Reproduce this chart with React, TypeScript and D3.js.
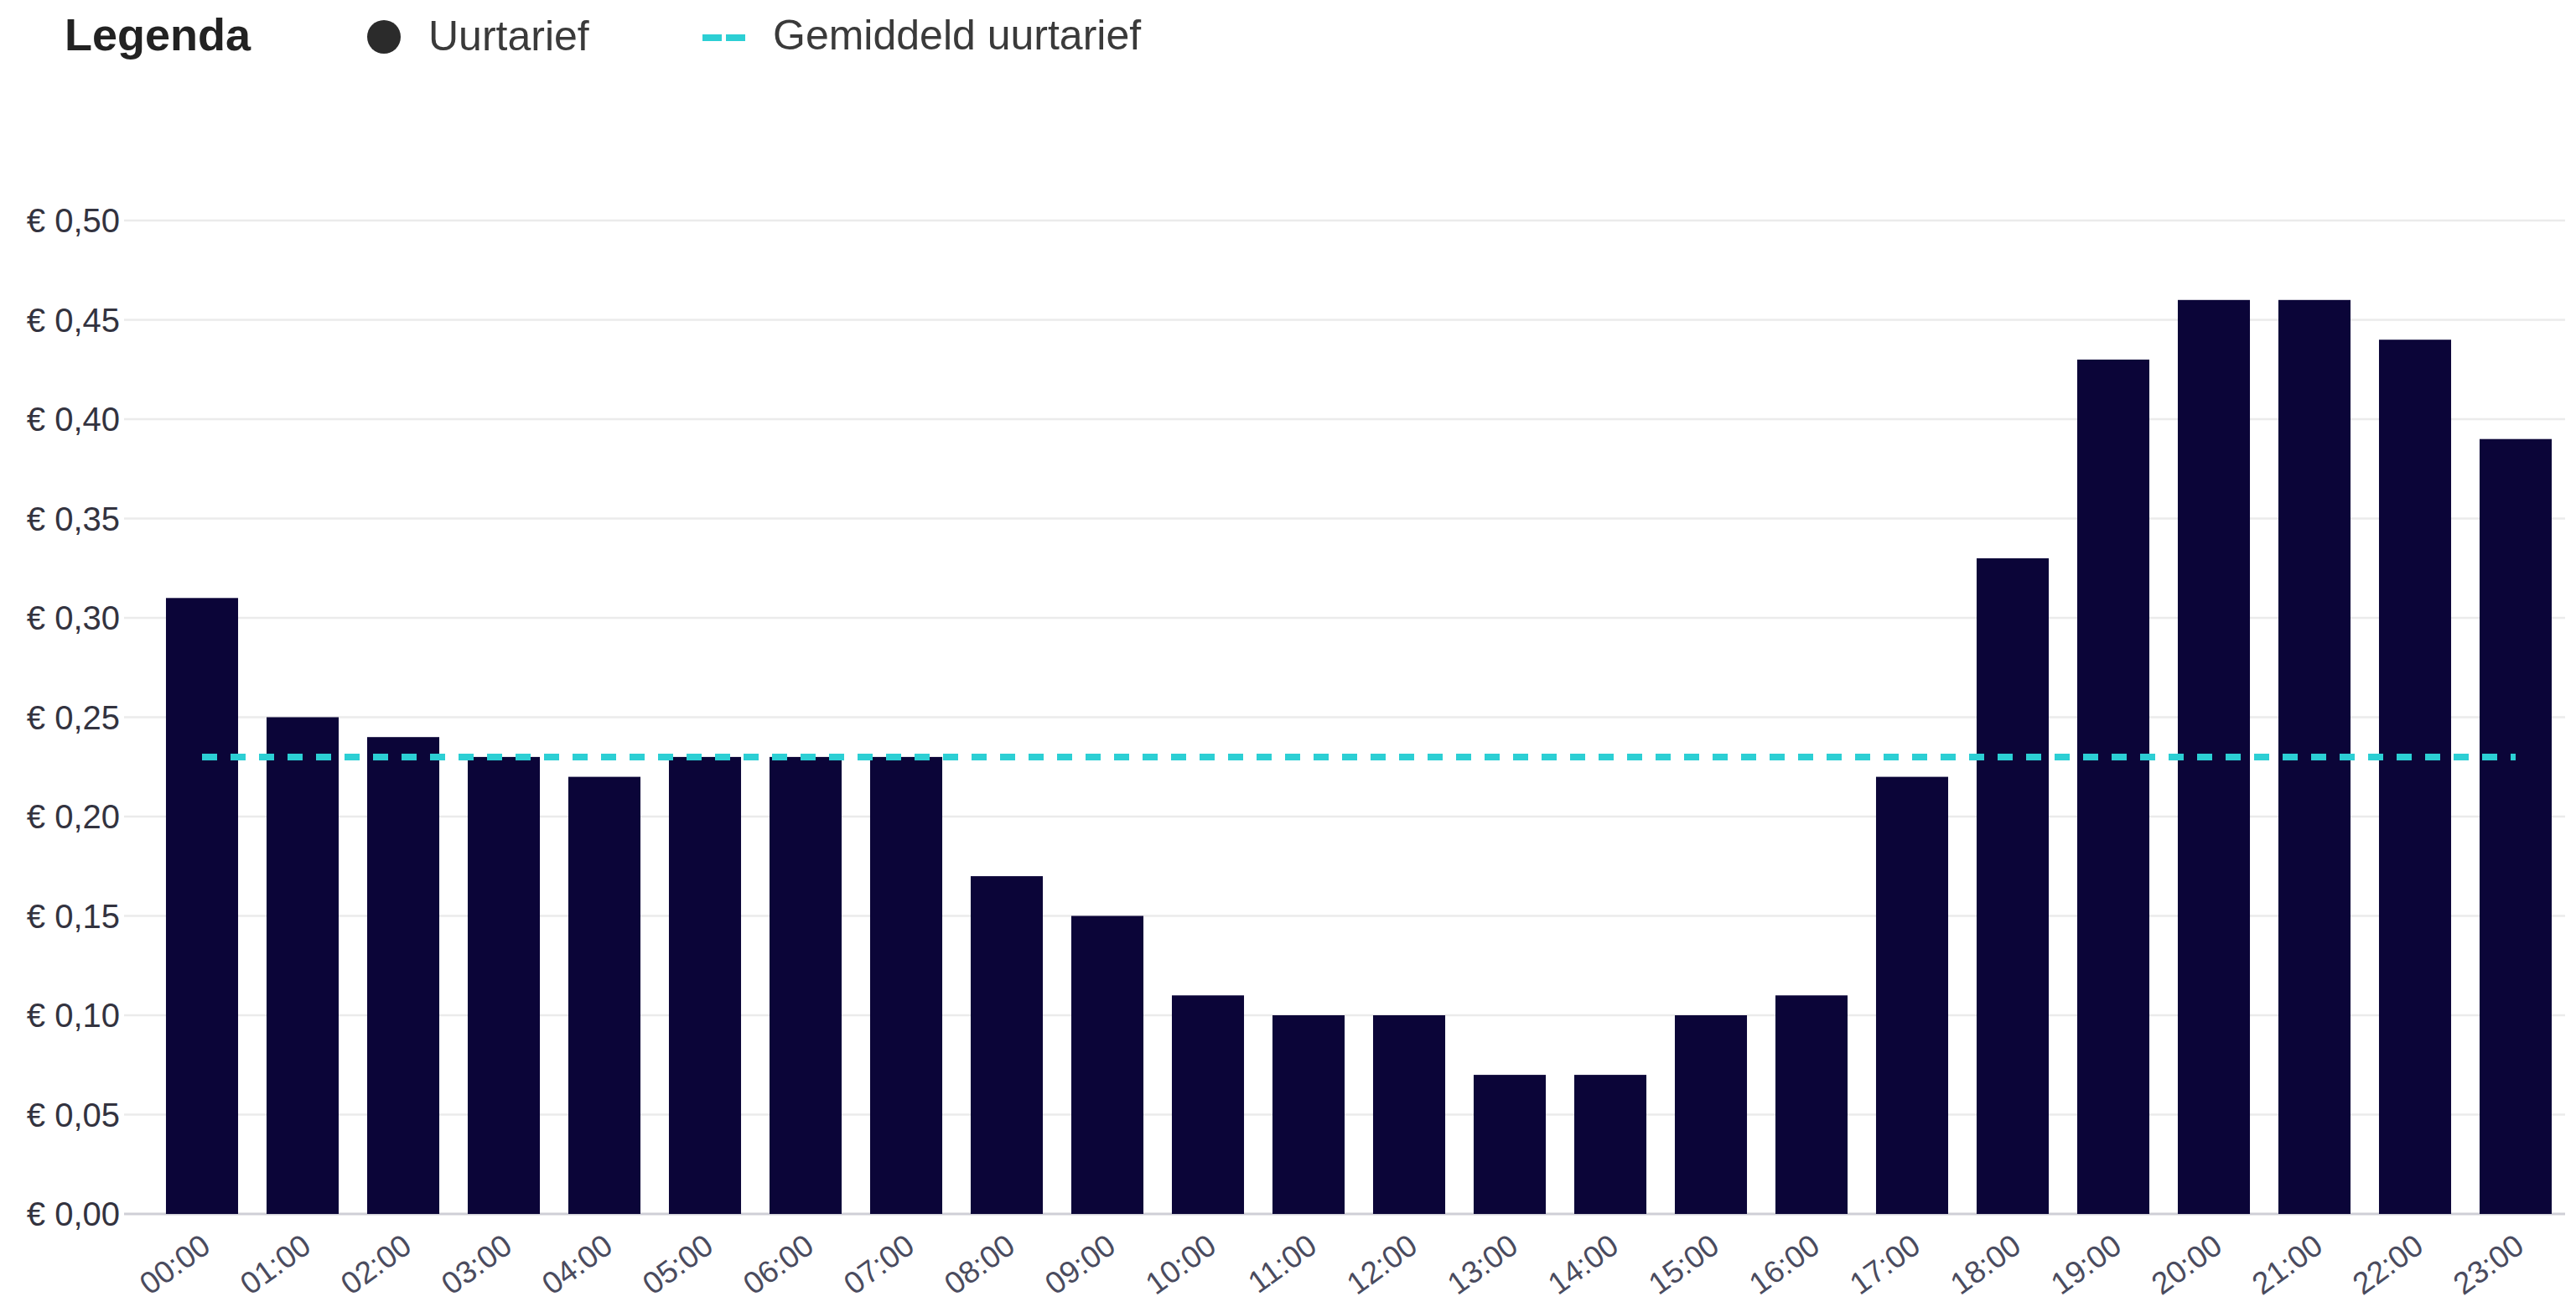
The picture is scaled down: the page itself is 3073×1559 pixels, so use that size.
import React from "react";
import * as d3 from "d3";

const hours: string[] = [
  "00:00", "01:00", "02:00", "03:00", "04:00", "05:00", "06:00", "07:00",
  "08:00", "09:00", "10:00", "11:00", "12:00", "13:00", "14:00", "15:00",
  "16:00", "17:00", "18:00", "19:00", "20:00", "21:00", "22:00", "23:00",
];
const prices: number[] = [
  0.31, 0.25, 0.24, 0.23, 0.22, 0.23, 0.23, 0.23,
  0.17, 0.15, 0.11, 0.10, 0.10, 0.07, 0.07, 0.10,
  0.11, 0.22, 0.33, 0.43, 0.46, 0.46, 0.44, 0.39,
];
const averagePrice = 0.23;
const yTicks: number[] = [0, 0.05, 0.1, 0.15, 0.2, 0.25, 0.3, 0.35, 0.4, 0.45, 0.5];
const legendTitle = "Legenda";
const legendBar = "Uurtarief";
const legendAvg = "Gemiddeld uurtarief";

const W = 3073;
const H = 1559;
const FONT = "'Liberation Sans', Arial, Helvetica, sans-serif";
const BAR = "#0b0538";
const CYAN = "#2ccfd4";

export default function App() {
  const gridLeft = 148;
  const gridRight = 3060;
  const x = d3
    .scaleBand<string>()
    .domain(hours)
    .range([181, 3061])
    .paddingInner(0.283)
    .paddingOuter(0.1415);
  const y = d3.scaleLinear().domain([0, 0.5]).range([1448, 263]);
  const fmt = (v: number) => "€ " + v.toFixed(2).replace(".", ",");

  const avgLine = d3.line<string>()
    .x((h) => (x(h) as number) + x.bandwidth() / 2)
    .y(() => y(averagePrice));
  const avgPts = [hours[0], hours[hours.length - 1]];

  return (
    <svg
      width={W}
      height={H}
      style={{ position: "absolute", left: 0, top: 0, background: "#fff" }}
      fontFamily={FONT}
    >
      {/* Legend */}
      <g>
        <text x={77} y={60} fontSize={54} fontWeight="bold" fill="#222">
          {legendTitle}
        </text>
        <circle cx={458} cy={44} r={20} fill="#2b2b2b" />
        <text x={511} y={60} fontSize={50} fill="#3a3a3a">
          {legendBar}
        </text>
        <line x1={838} x2={890} y1={45} y2={45} stroke={CYAN} strokeWidth={8} strokeDasharray="23 5" />
        <text x={922} y={59} fontSize={50} fill="#3a3a3a">
          {legendAvg}
        </text>
      </g>

      {/* Grid & y labels */}
      <g>
        {yTicks.map((t) => (
          <g key={t}>
            <line
              x1={gridLeft}
              x2={gridRight}
              y1={y(t)}
              y2={y(t)}
              stroke={t === 0 ? "#cfcfd6" : "#ebebeb"}
              strokeWidth={t === 0 ? 3 : 2.5}
            />
            <text
              x={143}
              y={y(t)}
              dy="0.36em"
              textAnchor="end"
              fontSize={40}
              fill="#33333f"
            >
              {fmt(t)}
            </text>
          </g>
        ))}
      </g>

      {/* Bars */}
      <g>
        {hours.map((h, i) => (
          <rect
            key={h}
            x={x(h)}
            y={y(prices[i])}
            width={x.bandwidth()}
            height={y(0) - y(prices[i])}
            fill={BAR}
          />
        ))}
      </g>

      {/* Average line */}
      <path
        d={avgLine(avgPts) || ""}
        fill="none"
        stroke={CYAN}
        strokeWidth={8}
        strokeDasharray="18 16"
      />

      {/* X labels */}
      <g>
        {hours.map((h) => {
          const cx = (x(h) as number) + x.bandwidth() / 2;
          return (
            <text
              key={h}
              transform={`translate(${cx - 3},${y(0) + 22}) rotate(-36)`}
              textAnchor="end"
              dy="0.71em"
              fontSize={37}
              fill="#4a4b5e"
            >
              {h}
            </text>
          );
        })}
      </g>
    </svg>
  );
}
